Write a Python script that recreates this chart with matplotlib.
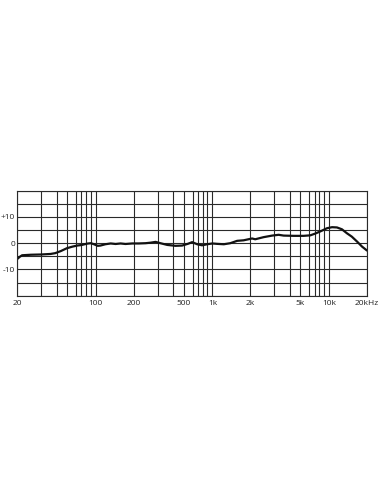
import numpy as np
import matplotlib
matplotlib.use('Agg')
import matplotlib.pyplot as plt

# frequency response (Hz, dB)
freq_hz = [20, 21, 22, 25.6, 30, 36, 39, 44, 50, 56, 62, 70, 83, 90, 95,
           105, 112, 125, 139, 152, 165, 178, 196, 220, 249, 270, 291, 317,
           361, 422, 486, 550, 594, 685, 790, 895, 1000,
           1120, 1300, 1470, 1650, 1820, 2070, 2200, 2550, 2910, 3280, 3600,
           4375, 5390, 6200, 7200, 8270, 9600,
           10800, 12100, 13400, 14700, 16000, 17400, 18700, 20000]
level_db = [-6.0, -5.2, -4.6, -4.4, -4.3, -4.1, -3.8, -3.0, -1.9, -1.3, -0.9, -0.7, -0.15, 0.0, -0.3,
            -1.0, -0.9, -0.4, -0.1, -0.3, -0.1, -0.3, -0.1, -0.1, 0.0, 0.2, 0.5, 0.0,
            -0.65, -1.0, -0.9, -0.2, 0.4, -0.4, -0.8, -0.4, -0.1,
            -0.25, -0.4, 0.0, 0.9, 1.1, 1.8, 1.5, 2.3, 2.9, 3.2, 2.9,
            2.8, 2.8, 3.0, 3.7, 4.5, 5.7,
            6.1, 6.0, 5.3, 3.8, 2.5, 0.6, -1.3, -2.8]

grid_freqs = [20, 30, 40, 50, 60, 70, 80, 90,
              100, 200, 300, 400, 500, 600, 700, 800, 900,
              1000, 2000, 3000, 4000, 5000, 6000, 7000, 8000, 9000,
              10000, 20000]
freq_labels = {20: '20', 100: '100', 200: '200', 500: '500', 1000: '1k',
               2000: '2k', 5000: '5k', 10000: '10k', 20000: '20kHz'}
level_ticks = [-20, -15, -10, -5, 0, 5, 10, 15, 20]
level_labels = {10: '+10', 0: '0', -10: '-10'}

# the printed grid is not a true log grid: positions of 1..10 inside a decade
MANT = np.arange(1, 11)
FRAC = np.array([0, .326, .531, .664, .752, .831, .876, .915, .956, 1.0])


def forward(f):
    lf = np.log10(np.clip(np.asarray(f, dtype=float), 1e-6, None))
    dec = np.floor(lf)
    m = 10 ** (lf - dec)
    return dec + np.interp(m, MANT, FRAC)


def inverse(p):
    p = np.asarray(p, dtype=float)
    dec = np.floor(p)
    return 10 ** dec * np.interp(p - dec, FRAC, MANT)


plt.rcParams['font.family'] = ['Open Sans', 'DejaVu Sans']

fig = plt.figure(figsize=(3.81, 4.92), dpi=100)
ax = fig.add_axes([17.3 / 381, 1 - 295.7 / 492, (367 - 17.3) / 381, 105 / 492])
ax.set_xscale('function', functions=(forward, inverse))
ax.set_xlim(20, 20000)
ax.set_ylim(-20, 20)

ax.set_xticks(grid_freqs)
ax.set_xticklabels([freq_labels.get(f, '') for f in grid_freqs])
ax.set_yticks(level_ticks)
ax.set_yticklabels([level_labels.get(v, '') for v in level_ticks])
ax.minorticks_off()
ax.tick_params(length=0, labelsize=6, colors='#222222')
ax.tick_params(axis='x', pad=3)
ax.tick_params(axis='y', pad=1.5)

ax.grid(True, color='#2a2a2a', linewidth=0.8)
for sp in ax.spines.values():
    sp.set_color('#2a2a2a')
    sp.set_linewidth(0.8)

ax.plot(freq_hz, level_db, color='#111111', linewidth=1.6, solid_capstyle='round')

fig.savefig('out.png', dpi=100)
